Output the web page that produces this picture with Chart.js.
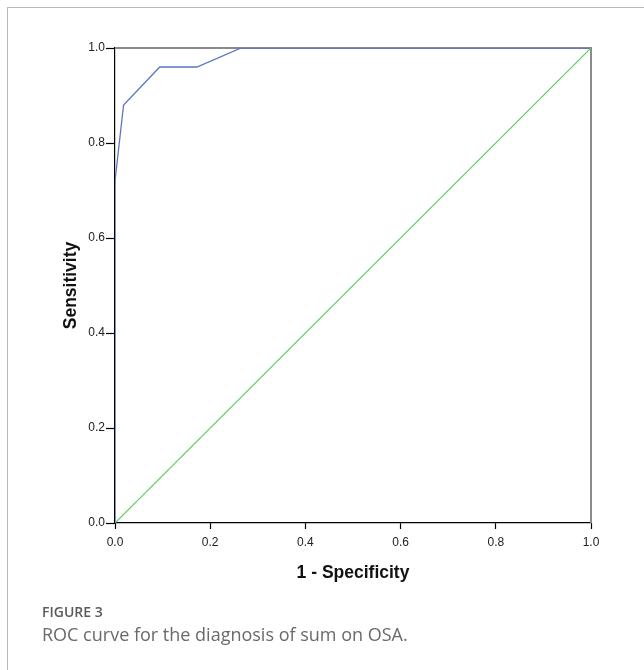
<!DOCTYPE html>
<html>
<head>
<meta charset="utf-8">
<script src="https://cdn.jsdelivr.net/npm/chart.js@4"></script>
<style>
    html, body { margin: 0; padding: 0; background: #fff; }
    #wrap { position: relative; width: 644px; height: 670px; overflow: hidden; }
    #frame { position: absolute; left: 7px; top: 7px; width: 700px; height: 700px;
             border-left: 1px solid #b8b8b8; border-top: 1px solid #b8b8b8; }
    canvas { position: absolute; left: 0; top: 0; }
    .label { position: absolute; left: 42px; font-family: "Open Sans", sans-serif; white-space: nowrap; }
    #fig { top: 602px; font-size: 14px; font-weight: 600; color: #5a5a5a; }
    #cap { top: 622px; font-size: 18px; color: #6a6a6a; }
</style>
</head>
<body>
<div id="wrap">
    <div id="frame"></div>
    <canvas id="chart" width="644" height="670"></canvas>
    <div class="label" id="fig">FIGURE 3</div>
    <div class="label" id="cap">ROC curve for the diagnosis of sum on OSA.</div>
</div>
<script>
const falsePositiveRate = [0, 0, 0.018, 0.094, 0.172, 0.265, 1];
const sensitivity = [0, 0.72, 0.88, 0.96, 0.96, 1, 1];
const referenceX = [0, 1];
const referenceY = [0, 1];
const tickValues = [0, 0.2, 0.4, 0.6, 0.8, 1.0];

const toPoints = (xs, ys) => xs.map((x, i) => ({ x, y: ys[i] }));

const tickFont = { family: "'Liberation Sans', Arial, sans-serif", size: 12 };
const titleFont = { family: "'Liberation Sans', Arial, sans-serif", size: 17.5, weight: "bold" };

// gray top/right edges of the plot, under the curves
const plotFrame = {
    id: "plotFrame",
    beforeDatasetsDraw(chart) {
        const { ctx, chartArea: a } = chart;
        ctx.save();
        ctx.strokeStyle = "#8a8a8a";
        ctx.lineWidth = 2;
        ctx.beginPath();
        ctx.moveTo(a.left, a.top);
        ctx.lineTo(a.right, a.top);
        ctx.lineTo(a.right, a.bottom);
        ctx.stroke();
        ctx.restore();
    }
};

const setTicks = (scale) => {
    scale.ticks = tickValues.map((value) => ({ value }));
};

new Chart(document.getElementById("chart"), {
    type: "scatter",
    data: {
        datasets: [
            {
                data: toPoints(referenceX, referenceY),
                showLine: true,
                borderColor: "#5ccb5c",
                borderWidth: 1.2,
                pointRadius: 0
            },
            {
                data: toPoints(falsePositiveRate, sensitivity),
                showLine: true,
                borderColor: "#5a74c6",
                borderWidth: 1.3,
                pointRadius: 0
            }
        ]
    },
    options: {
        responsive: false,
        animation: false,
        events: [],
        layout: { padding: { left: 56.5, right: 53, top: 48, bottom: 82.5 } },
        plugins: { legend: { display: false }, tooltip: { enabled: false } },
        scales: {
            x: {
                type: "linear",
                min: 0,
                max: 1,
                afterBuildTicks: setTicks,
                afterFit: (scale) => { scale.height = 64.5; },
                grid: { drawOnChartArea: false, drawTicks: true, tickLength: 6, color: "#000", tickWidth: 1.2 },
                border: { display: true, color: "#000", width: 1.2 },
                ticks: { color: "#222", font: tickFont, padding: 6, maxRotation: 0,
                          callback: (v) => v.toFixed(1) },
                title: { display: true, text: "1 - Specificity", color: "#111", font: titleFont }
            },
            y: {
                type: "linear",
                min: 0,
                max: 1,
                afterBuildTicks: setTicks,
                afterFit: (scale) => { scale.width = 58.5; },
                grid: { drawOnChartArea: false, drawTicks: true, tickLength: 9, color: "#000", tickWidth: 1.2 },
                border: { display: true, color: "#000", width: 1.2 },
                ticks: { color: "#222", font: tickFont, padding: 1,
                          callback: (v) => v.toFixed(1) },
                title: { display: true, text: "Sensitivity", color: "#111", font: titleFont }
            }
        }
    },
    plugins: [plotFrame]
});
</script>
</body>
</html>
